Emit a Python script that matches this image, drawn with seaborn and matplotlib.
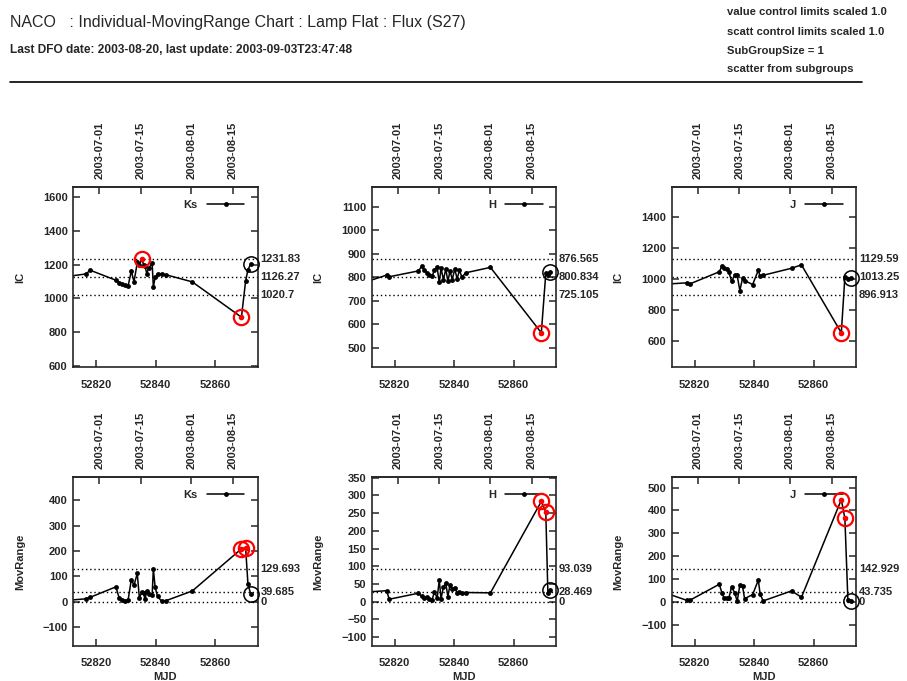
import matplotlib
matplotlib.use('Agg')
import matplotlib.pyplot as plt
from matplotlib.lines import Line2D
import pandas as pd
import seaborn as sns

# ---- data ----
ks_mjd = [52811.5, 52816.5, 52818.0, 52826.6, 52827.7, 52828.8, 52829.7, 52830.7, 52831.8, 52832.7,
          52833.8, 52834.5, 52835.3, 52835.9, 52836.4, 52837.0, 52837.6, 52838.8, 52839.2, 52839.8,
          52840.6, 52842.0, 52843.3, 52852.3, 52868.8, 52870.2, 52871.0, 52871.9]
ks_ic = [1132, 1144, 1166, 1107, 1091, 1083, 1078, 1072, 1162, 1097,
         1212, 1196, 1233, 1200, 1190, 1146, 1178, 1206, 1067, 1124,
         1146, 1144, 1140, 1097, 888, 1101, 1170, 1202]
ks_mr = [7, 12, 18, 59, 16, 8, 5, 6, 88, 65,
         112, 16, 37, 33, 10, 44, 32, 28, 130, 57,
         22, 2, 4, 43, 209, 213, 69, 32]

h_mjd = [52811.5, 52817.3, 52818.2, 52828.0, 52829.1, 52830.0, 52830.8, 52831.7, 52832.6, 52833.4,
         52834.3, 52835.0, 52835.6, 52836.4, 52837.2, 52837.9, 52838.6, 52839.4, 52840.2, 52841.0,
         52841.8, 52842.6, 52843.9, 52852.2, 52869.3, 52870.8, 52871.5, 52872.3]
h_ic = [785, 809, 802, 827, 846, 832, 818, 810, 804, 832,
        842, 778, 838, 790, 835, 782, 826, 790, 836, 793,
        830, 800, 819, 842, 563, 816, 808, 822]
h_mr = [28, 31, 7, 24, 15, 10, 14, 8, 6, 28,
        10, 61, 8, 42, 52, 14, 47, 35, 40, 25,
        28, 24, 26, 25, 283, 254, 25, 32]

j_mjd = [52811.5, 52817.3, 52818.4, 52828.3, 52829.2, 52830.0, 52830.8, 52831.5, 52832.4, 52833.5,
         52834.3, 52835.2, 52836.1, 52836.8, 52839.5, 52841.4, 52842.0, 52843.0, 52852.6, 52855.9,
         52869.3, 52870.5, 52871.5, 52872.5]
j_ic = [968, 975, 968, 1047, 1085, 1070, 1063, 1047, 986, 1024,
        1024, 925, 1004, 990, 964, 1057, 1017, 1024, 1070, 1092,
        650, 1015, 1000, 1005]
j_mr = [33, 7, 7, 77, 38, 15, 15, 16, 65, 40,
        2, 73, 68, 14, 32, 95, 36, 4, 48, 20,
        447, 365, 10, 5]

# control limits (UCL, CL, LCL)
ks_ic_lim = [1231.83, 1126.27, 1020.7]
ks_mr_lim = [129.693, 39.685, 0]
h_ic_lim = [876.565, 800.834, 725.105]
h_mr_lim = [93.039, 28.469, 0]
j_ic_lim = [1129.59, 1013.25, 896.913]
j_mr_lim = [142.929, 43.735, 0]

# out-of-control points (indexes)
ks_ic_ooc = [12, 24]
ks_mr_ooc = [24, 25]
h_ic_ooc = [24]
h_mr_ooc = [24, 25]
j_ic_ooc = [20]
j_mr_ooc = [20, 21]

date_mjd = [52821, 52835, 52852, 52866]
date_labels = ['2003-07-01', '2003-07-15', '2003-08-01', '2003-08-15']
mjd_ticks = [52820, 52840, 52860]

sns.set_theme(style='ticks')
plt.rcParams['font.family'] = ['Liberation Sans', 'DejaVu Sans']
plt.rcParams['font.weight'] = 'bold'
plt.rcParams['axes.linewidth'] = 1.2

fig = plt.figure(figsize=(9.07, 6.81), dpi=100)
W, H = 907.0, 681.0


def fmt(v):
    return '%g' % v


def draw_panel(rect, name, mjd, vals, lims, ooc, ylim, yticks, ylabel, xlabel):
    ax = fig.add_axes(rect)
    df = pd.DataFrame({'MJD': mjd, 'val': vals})
    sns.lineplot(data=df, x='MJD', y='val', ax=ax, sort=False, color='black', lw=1.1,
                 marker='o', markersize=3.5, markeredgecolor='black', markeredgewidth=0,
                 label=name)
    for v in lims:
        ax.axhline(v, color='black', ls=(0, (1, 2)), lw=1.0, zorder=1)
        ax.text(1.015, v, fmt(v), transform=ax.get_yaxis_transform(), ha='left', va='center',
                fontsize=8, fontweight='bold', clip_on=False)
    xo = [mjd[i] for i in ooc]
    yo = [vals[i] for i in ooc]
    ax.plot(xo, yo, 'o', color='red', ms=3, zorder=5)
    ax.plot(xo, yo, 'o', mfc='none', mec='red', ms=11, mew=1.6, zorder=6, clip_on=False)
    ax.plot([mjd[-1]], [vals[-1]], 'o', mfc='none', mec='black', ms=11, mew=1.1, zorder=6,
            clip_on=False)

    ax.set_xlim(52812.3, 52874.3)
    ax.set_ylim(*ylim)
    ax.set_xticks(mjd_ticks)
    ax.set_yticks(yticks)
    ax.tick_params(axis='both', direction='in', length=5, width=1.1, labelsize=8)
    ax.tick_params(axis='y', right=True, pad=4)
    ax.tick_params(axis='x', pad=9)
    ax.set_ylabel(ylabel, fontsize=8, fontweight='bold')
    ax.yaxis.set_label_coords(-0.26, 0.5)
    ax.set_xlabel(xlabel, fontsize=8, fontweight='bold', labelpad=2.5)

    sec = ax.secondary_xaxis('top')
    sec.set_xticks(date_mjd)
    sec.set_xticklabels(date_labels, rotation=90, fontsize=8, fontweight='bold')
    sec.tick_params(direction='in', length=5, width=1.1, pad=6)

    ax.legend(loc='upper right', frameon=False, markerfirst=False, handlelength=3.4,
              handletextpad=0.8, borderaxespad=0.8,
              prop={'size': 8, 'weight': 'bold'})
    return ax


lefts = [73.3, 371.7, 671.7]
pw = 184.5
top_rect = lambda l: [l / W, 1 - 367 / H, pw / W, 180 / H]
bot_rect = lambda l: [l / W, 1 - 646 / H, pw / W, 169 / H]

draw_panel(top_rect(lefts[0]), 'Ks', ks_mjd, ks_ic, ks_ic_lim, ks_ic_ooc, (593, 1659),
           [600, 800, 1000, 1200, 1400, 1600], 'IC', '')
draw_panel(top_rect(lefts[1]), 'H', h_mjd, h_ic, h_ic_lim, h_ic_ooc, (417, 1185),
           [500, 600, 700, 800, 900, 1000, 1100], 'IC', '')
draw_panel(top_rect(lefts[2]), 'J', j_mjd, j_ic, j_ic_lim, j_ic_ooc, (428, 1598),
           [600, 800, 1000, 1200, 1400], 'IC', '')

draw_panel(bot_rect(lefts[0]), 'Ks', ks_mjd, ks_mr, ks_mr_lim, ks_mr_ooc, (-174, 492),
           [-100, 0, 100, 200, 300, 400], 'MovRange', 'MJD')
draw_panel(bot_rect(lefts[1]), 'H', h_mjd, h_mr, h_mr_lim, h_mr_ooc, (-125, 352),
           [-100, -50, 0, 50, 100, 150, 200, 250, 300, 350], 'MovRange', 'MJD')
draw_panel(bot_rect(lefts[2]), 'J', j_mjd, j_mr, j_mr_lim, j_mr_ooc, (-193, 546),
           [-100, 0, 100, 200, 300, 400, 500], 'MovRange', 'MJD')

# header
fig.text(10 / W, 1 - 22 / H, 'NACO   : Individual-MovingRange Chart : Lamp Flat : Flux (S27)',
         fontsize=11.5, fontweight='normal', va='center', ha='left')
fig.text(10 / W, 1 - 50 / H, 'Last DFO date: 2003-08-20, last update: 2003-09-03T23:47:48',
         fontsize=8.6, va='center', ha='left')
for yy, s in zip([12, 32, 51, 69], ['value control limits scaled 1.0',
                                    'scatt control limits scaled 1.0',
                                    'SubGroupSize = 1',
                                    'scatter from subgroups']):
    fig.text(727 / W, 1 - yy / H, s, fontsize=8.1, va='center', ha='left')
fig.add_artist(Line2D([10 / W, 862 / W], [1 - 82 / H, 1 - 82 / H], color='black', lw=1.2))

fig.savefig('out.png', dpi=100)
